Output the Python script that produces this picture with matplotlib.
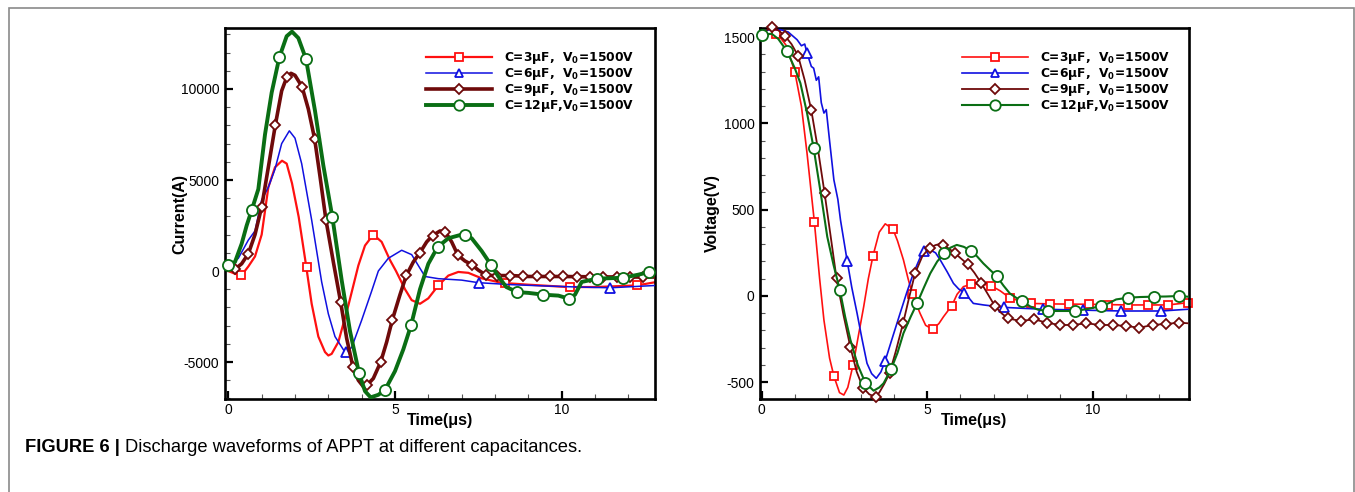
import matplotlib
matplotlib.use("Agg")
import matplotlib.pyplot as plt
from matplotlib.lines import Line2D
from matplotlib.patches import Rectangle
from matplotlib.ticker import MultipleLocator

plt.rcParams["font.family"] = ["Liberation Sans", "DejaVu Sans"]
plt.rcParams["axes.unicode_minus"] = False
plt.rcParams["mathtext.fontset"] = "custom"
plt.rcParams["mathtext.rm"] = "DejaVu Sans"
plt.rcParams["mathtext.bf"] = "DejaVu Sans:bold"

# ---- discharge current (A) vs time (us) ----
cur_t3 = [0, 0.2, 0.4, 0.6, 0.8, 1.0, 1.2, 1.4, 1.61, 1.75, 1.91, 2.11, 2.3, 2.5, 2.7, 2.9, 3.0, 3.1, 3.3, 3.6,
          3.9, 4.1, 4.35, 4.6, 4.85, 5.03, 5.3, 5.5, 5.75, 6.0, 6.3, 6.6, 6.9, 7.2, 7.6, 8.2, 9.0, 10.2, 11.0, 12.26, 12.85]
cur_i3 = [0, -150, -220, 250, 800, 2000, 4600, 5700, 6060, 5900, 4820, 2980, 700, -1800, -3600, -4450, -4640, -4550, -3900, -1900,
          300, 1400, 2000, 1600, 600, 0, -1000, -1600, -1800, -1500, -790, -250, -50, -100, -400, -650, -750, -880, -880, -790, -600]
cur_mt3 = [0.37, 2.36, 4.34, 6.3, 8.3, 10.25, 12.26]
cur_mi3 = [-240, 220, 2000, -790, -650, -880, -790]

cur_t6 = [0, 0.3, 0.6, 0.8, 1.0, 1.2, 1.4, 1.6, 1.83, 2.0, 2.2, 2.5, 2.8, 3.0, 3.2, 3.5, 3.7, 4.0, 4.3, 4.5,
          4.8, 5.2, 5.5, 5.9, 6.3, 7.0, 7.5, 8.5, 9.5, 10.5, 11.46, 12.85]
cur_i6 = [200, 700, 1700, 2200, 3900, 4600, 5600, 7000, 7700, 7300, 5900, 2800, -600, -2350, -3600, -4460, -4200, -2700, -1100, 0,
          700, 1140, 900, -300, -420, -500, -640, -750, -820, -880, -920, -790]
cur_mt6 = [3.52, 7.52, 11.46]
cur_mi6 = [-4460, -640, -920]

cur_t9 = [0, 0.2, 0.4, 0.6, 0.8, 1.0, 1.2, 1.41, 1.6, 1.76, 1.88, 2.0, 2.21, 2.4, 2.59, 2.75, 2.93, 3.15, 3.37, 3.55,
          3.74, 3.9, 4.05, 4.17, 4.35, 4.57, 4.75, 4.92, 5.15, 5.34, 5.55, 5.75, 5.95, 6.13, 6.35, 6.51, 6.7, 6.89, 7.1, 7.3,
          7.5, 7.74, 8.0, 8.5, 9.0, 10.0, 11.0, 12.0, 12.85]
cur_i9 = [100, 100, 400, 950, 2000, 3520, 5700, 8020, 9900, 10680, 10860, 10750, 10130, 8900, 7250, 5200, 2790, 500, -1710, -3700,
          -5280, -6000, -6350, -6250, -5900, -5000, -3900, -2680, -1300, -240, 500, 1010, 1600, 1950, 2200, 2150, 1600, 860, 550, 350,
          50, -240, -250, -250, -300, -300, -320, -330, -330]
cur_mt9 = [0.2, 0.6, 1.0, 1.41, 1.76, 2.21, 2.59, 2.93, 3.37, 3.74, 4.17, 4.57, 4.92, 5.34, 5.75, 6.13, 6.51, 6.89, 7.3, 7.74,
           8.07, 8.45, 8.85, 9.25, 9.65, 10.05, 10.45, 10.85, 11.25, 11.65, 12.05, 12.45]
cur_mi9 = [100, 950, 3520, 8020, 10680, 10130, 7250, 2790, -1710, -5280, -6250, -5000, -2680, -240, 1010, 1950, 2150, 860, 350, -240,
           -260, -250, -260, -300, -300, -300, -310, -320, -325, -330, -330, -330]

cur_t12 = [0, 0.2, 0.4, 0.55, 0.7, 0.9, 1.1, 1.3, 1.53, 1.75, 1.91, 2.1, 2.33, 2.6, 2.85, 3.12, 3.4, 3.65, 3.92, 4.1,
           4.27, 4.5, 4.7, 5.0, 5.25, 5.48, 5.75, 6.0, 6.28, 6.6, 7.0, 7.3, 7.6, 7.89, 8.1, 8.34, 8.67, 9.0, 9.45, 9.9,
           10.22, 10.4, 10.6, 11.06, 11.84, 12.3, 12.63, 12.85]
cur_i12 = [350, 500, 1500, 2500, 3340, 4500, 7500, 9800, 11740, 12900, 13150, 12800, 11650, 8800, 5800, 2970, -500, -3300, -5600, -6600,
           -6940, -6800, -6530, -5500, -4300, -2990, -1000, 400, 1320, 1800, 2000, 1800, 1100, 310, -300, -880, -1160, -1200, -1300, -1350,
           -1520, -1300, -600, -420, -370, -200, -55, -150]
cur_mt12 = [0.0, 0.7, 1.53, 2.33, 3.12, 3.92, 4.7, 5.48, 6.28, 7.09, 7.89, 8.67, 9.45, 10.22, 11.06, 11.84, 12.63]
cur_mi12 = [350, 3340, 11740, 11650, 2970, -5600, -6530, -2990, 1320, 2000, 310, -1160, -1300, -1520, -420, -370, -55]

# ---- discharge voltage (V) vs time (us) ----
vol_t3 = [0, 0.47, 0.75, 1.0, 1.2, 1.37, 1.59, 1.75, 1.88, 2.05, 2.18, 2.35, 2.48, 2.6, 2.76, 2.92, 3.08, 3.22, 3.36, 3.55,
          3.73, 3.96, 4.1, 4.28, 4.42, 4.55, 4.78, 4.95, 5.16, 5.35, 5.49, 5.74, 5.9, 6.09, 6.32, 6.6, 6.92, 7.2, 7.51, 8.12,
          8.7, 9.87, 11.05, 12.26, 12.86]
vol_v3 = [1513, 1520, 1450, 1300, 1100, 827, 431, 100, -140, -360, -464, -560, -574, -530, -400, -230, -62, 100, 232, 370,
          418, 389, 320, 209, 100, 10, -100, -170, -193, -160, -120, -56, 10, 54, 68, 70, 60, 30, -14, -43,
          -46, -48, -52, -52, -39]
vol_mt3 = [0.42, 1.0, 1.59, 2.18, 2.76, 3.36, 3.96, 4.55, 5.16, 5.74, 6.32, 6.92, 7.51, 8.12, 8.7, 9.27, 9.87, 10.45, 11.05, 11.65,
           12.26, 12.86]
vol_mv3 = [1520, 1300, 431, -464, -400, 232, 389, 10, -193, -56, 68, 60, -14, -43, -46, -47, -48, -50, -52, -52, -52, -39]

vol_t6 = [0, 0.3, 0.57, 0.8, 1.07, 1.2, 1.3, 1.37, 1.5, 1.57, 1.65, 1.72, 1.8, 1.88, 1.95, 2.05, 2.18, 2.3, 2.38, 2.58,
          2.72, 2.88, 3.03, 3.18, 3.32, 3.46, 3.6, 3.73, 3.95, 4.18, 4.38, 4.58, 4.86, 5.09, 5.25, 5.39, 5.6, 5.79, 5.95, 6.12,
          6.25, 6.39, 6.7, 7.31, 8.5, 9.7, 10.85, 12.06, 12.86]
vol_v6 = [1533, 1545, 1543, 1530, 1485, 1450, 1460, 1407, 1330, 1320, 1250, 1270, 1120, 1060, 1080, 900, 673, 560, 440, 205,
          50, -100, -250, -390, -450, -477, -440, -375, -240, -100, 20, 131, 257, 267, 250, 209, 140, 73, 40, 19,
          -10, -43, -52, -66, -77, -82, -87, -87, -77]
vol_mt6 = [1.37, 2.58, 3.73, 4.9, 6.12, 7.31, 8.5, 9.7, 10.85, 12.06]
vol_mv6 = [1407, 205, -375, 262, 19, -66, -77, -82, -87, -87]

vol_t9 = [0, 0.15, 0.32, 0.5, 0.7, 0.9, 1.1, 1.3, 1.5, 1.7, 1.9, 2.08, 2.26, 2.47, 2.68, 2.87, 3.06, 3.25, 3.43, 3.55,
          3.7, 3.86, 4.05, 4.27, 4.45, 4.63, 4.85, 5.07, 5.25, 5.39, 5.46, 5.65, 5.84, 6.03, 6.22, 6.42, 6.62, 6.83, 7.04, 7.24,
          7.44, 7.82, 8.23, 8.6, 9.0, 9.4, 9.8, 10.2, 10.6, 11.0, 11.4, 11.8, 12.2, 12.59, 12.86]
vol_v9 = [1523, 1540, 1558, 1540, 1508, 1460, 1392, 1250, 1075, 850, 595, 350, 102, -110, -298, -440, -532, -570, -584, -560,
          -510, -448, -320, -158, -10, 131, 230, 280, 295, 302, 296, 275, 247, 215, 184, 135, 77, 10, -58, -100,
          -130, -145, -135, -155, -168, -168, -158, -168, -168, -174, -184, -168, -162, -155, -158]
vol_mt9 = [0.32, 0.7, 1.1, 1.5, 1.9, 2.26, 2.68, 3.06, 3.46, 3.86, 4.27, 4.63, 5.07, 5.46, 5.84, 6.22, 6.62, 7.04, 7.44, 7.82,
           8.23, 8.6, 9.0, 9.4, 9.8, 10.2, 10.6, 11.0, 11.4, 11.8, 12.2, 12.59]
vol_mv9 = [1558, 1508, 1392, 1075, 595, 102, -298, -532, -584, -448, -158, 131, 280, 296, 247, 184, 77, -58, -130, -145,
           -135, -155, -168, -168, -158, -168, -168, -174, -184, -168, -162, -155]

vol_t12 = [0, 0.3, 0.5, 0.77, 1.0, 1.17, 1.37, 1.57, 1.78, 1.98, 2.17, 2.36, 2.52, 2.68, 2.9, 3.13, 3.38, 3.55, 3.68, 3.91,
           4.1, 4.28, 4.5, 4.7, 4.9, 5.09, 5.3, 5.51, 5.7, 5.89, 6.1, 6.31, 6.5, 6.69, 6.9, 7.09, 7.3, 7.49, 7.68, 7.86,
           8.1, 8.35, 8.65, 9.05, 9.45, 9.85, 10.25, 10.5, 10.7, 11.05, 11.43, 11.83, 12.2, 12.61, 12.86]
vol_v12 = [1513, 1520, 1490, 1417, 1320, 1233, 1060, 856, 600, 344, 180, 35, -120, -255, -400, -503, -549, -530, -506, -423,
           -330, -216, -120, -39, 50, 131, 200, 247, 280, 296, 285, 263, 230, 189, 150, 116, 60, 15, -10, -29,
           -60, -80, -87, -87, -87, -75, -58, -40, -20, -10, -6, -4, -3, 0, -4]
vol_mt12 = [0.0, 0.77, 1.57, 2.36, 3.13, 3.91, 4.7, 5.51, 6.31, 7.09, 7.86, 8.65, 9.45, 10.25, 11.05, 11.83, 12.61]
vol_mv12 = [1513, 1417, 856, 35, -503, -423, -39, 247, 263, 116, -29, -87, -87, -58, -10, -4, 0]

labels = ["C=3\u03bcF,  V$_\\mathbf{0}$=1500V", "C=6\u03bcF,  V$_\\mathbf{0}$=1500V",
          "C=9\u03bcF,  V$_\\mathbf{0}$=1500V", "C=12\u03bcF,V$_\\mathbf{0}$=1500V"]
colors = ["#ff1010", "#1010e0", "#6e0a0a", "#0a6e14"]
markers = ["s", "^", "D", "o"]
msizes = [6, 6.5, 5.5, 8]

W, H = 1355, 492
fig = plt.figure(figsize=(W / 100, H / 100), dpi=100)

# grey frame around the figure panel
fig.patches.append(Rectangle((9 / W, -0.1), (1354 - 9) / W, 1.1 - 8 / H, transform=fig.transFigure,
                             fill=False, edgecolor="#8a8a8a", lw=1.2))

ax1 = fig.add_axes([225 / W, 1 - 399 / H, 430 / W, 371 / H])
ax2 = fig.add_axes([760 / W, 1 - 399 / H, 429 / W, 371 / H])


def draw_series(ax, t, y, mt, my, i, lw):
    ax.plot(t, y, color=colors[i], lw=lw, zorder=2 + i)
    ax.plot(mt, my, ls="none", marker=markers[i], ms=msizes[i], mfc="white", mec=colors[i],
            mew=1.3, zorder=2.5 + i, clip_on=False)
    return Line2D([], [], color=colors[i], lw=lw, marker=markers[i], ms=msizes[i] - 0.5,
                  mfc="white", mec=colors[i], mew=1.3)


h1 = [draw_series(ax1, cur_t3, cur_i3, cur_mt3, cur_mi3, 0, 1.6),
      draw_series(ax1, cur_t6, cur_i6, cur_mt6, cur_mi6, 1, 1.1),
      draw_series(ax1, cur_t9, cur_i9, cur_mt9, cur_mi9, 2, 2.6),
      draw_series(ax1, cur_t12, cur_i12, cur_mt12, cur_mi12, 3, 2.8)]
h2 = [draw_series(ax2, vol_t3, vol_v3, vol_mt3, vol_mv3, 0, 1.2),
      draw_series(ax2, vol_t6, vol_v6, vol_mt6, vol_mv6, 1, 1.2),
      draw_series(ax2, vol_t9, vol_v9, vol_mt9, vol_mv9, 2, 1.3),
      draw_series(ax2, vol_t12, vol_v12, vol_mt12, vol_mv12, 3, 1.5)]

ax1.set_xlim(-0.1, 12.8)
ax1.set_ylim(-7030, 13350)
ax1.yaxis.set_major_locator(MultipleLocator(5000))
ax1.yaxis.set_minor_locator(MultipleLocator(1000))
ax1.set_ylabel("Current(A)", fontsize=11.5, fontweight="bold")
ax1.yaxis.set_label_coords(-0.088, 0.5)

ax2.set_xlim(-0.05, 12.9)
ax2.set_ylim(-597, 1553)
ax2.yaxis.set_major_locator(MultipleLocator(500))
ax2.yaxis.set_minor_locator(MultipleLocator(100))
ax2.set_ylabel("Voltage(V)", fontsize=11.5, fontweight="bold")
ax2.yaxis.set_label_coords(-0.093, 0.5)

for ax, h, lx in [(ax1, h1, 0.455), (ax2, h2, 0.459)]:
    ax.xaxis.set_major_locator(MultipleLocator(5))
    ax.xaxis.set_minor_locator(MultipleLocator(1))
    ax.set_xlabel("Time(\u03bcs)", fontsize=11.5, fontweight="bold")
    ax.xaxis.set_label_coords(0.5, -0.038)
    for s in ax.spines.values():
        s.set_linewidth(1.9)
    ax.tick_params(which="major", direction="in", length=6, width=1.6, labelsize=10, pad=4)
    ax.tick_params(which="minor", direction="in", length=3.5, width=0.8, color="#555555")
    ax.tick_params(axis="x", which="major", pad=3)
    ax.legend(h, labels, loc="upper left", bbox_to_anchor=(lx, 0.953), frameon=False,
              handlelength=5.4, handletextpad=1.0, labelspacing=0.0, borderaxespad=0,
              prop={"family": "DejaVu Sans", "weight": "bold", "size": 8.8})

# caption
t1 = fig.text(25 / W, 1 - 447 / H, "FIGURE 6 |", fontsize=13.2, fontweight="bold",
              va="center", ha="left")
fig.canvas.draw()
bb = t1.get_window_extent()
fig.text((bb.x1 + 5) / W, 1 - 447 / H, "Discharge waveforms of APPT at different capacitances.",
         fontsize=13.2, va="center", ha="left")

fig.savefig("out.png", dpi=100)
